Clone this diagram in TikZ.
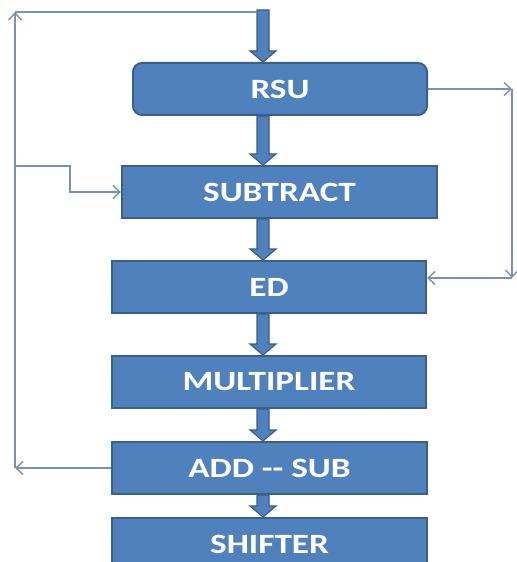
\documentclass[tikz,border=0pt]{standalone}
\usepackage{fontspec}
\newfontfamily\boxfont{Carlito}[FakeStretch=1.26]
\usetikzlibrary{arrows.meta,calc}

\definecolor{boxfill}{HTML}{4F81BD}
\definecolor{boxedge}{HTML}{3A5F8B}
\definecolor{wire}{HTML}{7A91B2}

\tikzset{
  block/.style={draw=boxedge, line width=2bp, fill=boxfill, text=white,
    minimum height=52bp, inner sep=0pt,
    font=\boxfont\bfseries\fontsize{28}{30}\selectfont},
  wireline/.style={draw=wire, line width=1.4bp},
  wirearrow/.style={wireline, -{Straight Barb[length=7bp,width=13bp,line width=1.4bp]}},
  fatarrow/.style={draw=boxedge, line width=1.2bp, fill=boxfill, line join=miter},
}

% vertical block arrow from #1 down to #2 (tip at #2)
\newcommand\blockarrow[2]{%
  \draw[fatarrow] ($(#1)+(-6,0)$) -- ($(#2)+(-6,-11)$) -- ($(#2)+(-13,-11)$)
    -- (#2) -- ($(#2)+(13,-11)$) -- ($(#2)+(6,-11)$) -- ($(#1)+(6,0)$) -- cycle;}

\begin{document}
\begin{tikzpicture}[x=1bp,y=-1bp]
  \clip (0,0) rectangle (517,562);
  \fill[white] (0,0) rectangle (517,562);

  % processing stages
  \node[block, rounded corners=9bp, minimum width=294bp] (rsu) at (280,89) {RSU};
  \node[block, minimum width=315bp] (sub) at (279.5,192) {SUBTRACT};
  \node[block, minimum width=314bp] (ed)  at (269,287) {ED};
  \node[block, minimum width=314bp] (mul) at (269,382) {MULTIPLIER};
  \node[block, minimum width=315bp] (add) at (269.5,468) {ADD -{}- SUB};
  \node[block, minimum width=315bp, minimum height=52bp] (shf) at (269.5,544) {SHIFTER};

  % main data path
  \coordinate (spine) at (263,10);
  \blockarrow{spine}{rsu.north -| spine}
  \blockarrow{rsu.south -| spine}{sub.north -| spine}
  \blockarrow{sub.south -| spine}{ed.north -| spine}
  \blockarrow{ed.south -| spine}{mul.north -| spine}
  \blockarrow{mul.south -| spine}{add.north -| spine}
  \blockarrow{add.south -| spine}{shf.north -| spine}

  % feedback loop on the left
  \coordinate (lb) at (15,468);
  \coordinate (lt) at (15,12);
  \coordinate (ltr) at (257,12);
  \coordinate (lbr) at (15,166);
  \coordinate (lbk) at (70,166);
  \draw[wirearrow] (add.west) -- (lb);
  \draw[wirearrow] (lb) -- (lt);
  \draw[wireline] (lt) -- (ltr);
  \draw[wirearrow] (lbr) -- (lbk) |- (sub.west);

  % bypass on the right
  \coordinate (rt) at (512,89);
  \coordinate (rb) at (512,278);
  \draw[wirearrow] (rsu.east) -- (rt);
  \draw[wirearrow] (rt) -- (rb);
  \draw[wirearrow] (rb) -- (ed.east |- rb);
\end{tikzpicture}
\end{document}
